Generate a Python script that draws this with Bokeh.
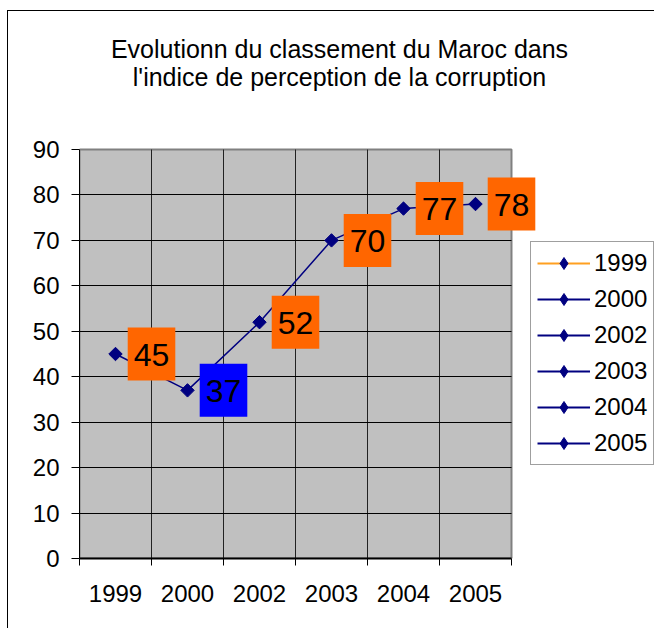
import numpy as np
from bokeh.plotting import figure
from bokeh.models import (ColumnDataSource, FixedTicker, Label, Legend,
                          LegendItem, Range1d)
from bokeh.embed import file_html
from bokeh.resources import INLINE

# ---- data ----
years = ["1999", "2000", "2002", "2003", "2004", "2005"]
ranks = [45, 37, 52, 70, 77, 78]
y_ticks = [0, 10, 20, 30, 40, 50, 60, 70, 80, 90]
title_lines = ["Evolutionn du classement du Maroc dans",
               "l'indice de perception de la corruption"]

# ---- styles / layout (canvas pixels) ----
FONT = "Liberation Sans"
NAVY = "#000080"
ORANGE = "#FF6600"
BLUE = "#0000FF"
LEG_ORANGE = "#FFA020"
label_colors = [BLUE if y == "2000" else ORANGE for y in years]

W, H = 647, 618            # canvas size (page offset 8, 11 by css)
LEFT, BOTTOM = 71, 71      # axis panels
PLOT_W, PLOT_H = 432, 409  # grey plot area in pixels
frame_w = W - LEFT
frame_h = H - BOTTOM

n = len(years)
xs = [i + 0.5 for i in range(n)]
ymax = y_ticks[-1]
x_end = n * frame_w / PLOT_W
y_end = ymax * frame_h / PLOT_H

p = figure(width=W, height=H,
           x_range=Range1d(0, x_end), y_range=Range1d(0, y_end),
           output_backend="svg", toolbar_location=None,
           min_border_left=LEFT, min_border_right=0,
           min_border_top=0, min_border_bottom=BOTTOM,
           background_fill_color="white", border_fill_color="white",
           outline_line_color=None)
p.styles = {"margin-left": "7px", "margin-top": "10px",
            "border-left": "1px solid black", "border-top": "1px solid black"}

# grey plot area
p.quad(left=0, right=n, bottom=0, top=ymax, fill_color="#C0C0C0",
       line_color="#808080", line_width=2, level="image")

# axes
xa = p.xaxis[0]
xa.bounds = (0, n)
xa.ticker = FixedTicker(ticks=xs, minor_ticks=list(range(n + 1)))
xa.major_label_overrides = {x: y for x, y in zip(xs, years)}
xa.major_tick_out = 0
xa.major_tick_in = 0
xa.minor_tick_out = 7
xa.minor_tick_in = 0
xa.minor_tick_line_color = "black"
xa.axis_line_color = "black"
xa.axis_line_width = 2
xa.major_label_standoff = 19
xa.major_label_text_font = FONT
xa.major_label_text_font_size = "24px"
xa.major_label_text_color = "black"

ya = p.yaxis[0]
ya.bounds = (0, ymax)
ya.ticker = FixedTicker(ticks=y_ticks)
ya.major_tick_out = 8
ya.major_tick_in = 0
ya.minor_tick_line_color = None
ya.axis_line_color = "black"
ya.axis_line_width = 1
ya.major_label_standoff = 12
ya.major_label_text_font = FONT
ya.major_label_text_font_size = "24px"
ya.major_label_text_color = "black"

p.xgrid.ticker = FixedTicker(ticks=list(range(1, n)))
p.xgrid.cross_bounds = (0, ymax)
p.xgrid.grid_line_color = "#222222"
p.ygrid.ticker = FixedTicker(ticks=y_ticks[1:-1])
p.ygrid.cross_bounds = (0, n)
p.ygrid.grid_line_color = "black"

# data
src = ColumnDataSource(dict(x=xs, y=ranks))
ln = p.line("x", "y", source=src, line_color=NAVY, line_width=1.5)
sc = p.scatter("x", "y", source=src, marker="square", size=9.5, angle=np.pi / 4,
               fill_color=NAVY, line_color=NAVY)

# legend proxies (nothing visible in the plot)
nan_src = ColumnDataSource(dict(x=[xs[0]], y=[float("nan")]))
leg_or = p.line("x", "y", source=nan_src, line_color=LEG_ORANGE, line_width=2)
leg_nv = p.line("x", "y", source=nan_src, line_color=NAVY, line_width=2)
leg_mk = p.scatter("x", "y", source=nan_src, marker="diamond", size=12,
                   fill_color=NAVY, line_color=NAVY)

# data labels (boxes centred half a category to the right of each point)
for x, r, c in zip(xs, ranks, label_colors):
    p.add_layout(Label(x=x + 0.5, y=r, text=str(r),
                       text_align="center", text_baseline="middle",
                       text_font=FONT, text_font_size="32px", text_color="black",
                       background_fill_color=c,
                       padding=dict(left=6, right=6, top=16, bottom=15)))

# legend
items = []
for i, y in enumerate(years):
    items.append(LegendItem(label=y, renderers=[leg_or if i == 0 else leg_nv, leg_mk]))
legend = Legend(items=items, location=(451, 93),
                glyph_width=53, glyph_height=30, label_height=26,
                label_standoff=4, spacing=6, padding=6, margin=0,
                border_line_color="#404040", border_line_width=1,
                background_fill_color="white", background_fill_alpha=1,
                label_text_font=FONT, label_text_font_size="24px",
                label_text_color="black")
p.add_layout(legend)

# title
for yy, t in zip([36, 64], title_lines):
    p.add_layout(Label(x=330, y=yy, x_units="canvas", y_units="canvas", text=t,
                       text_align="center", text_baseline="middle",
                       text_font=FONT, text_font_size="25px", text_color="black"))

open("out.html", "w").write(file_html(p, INLINE))
